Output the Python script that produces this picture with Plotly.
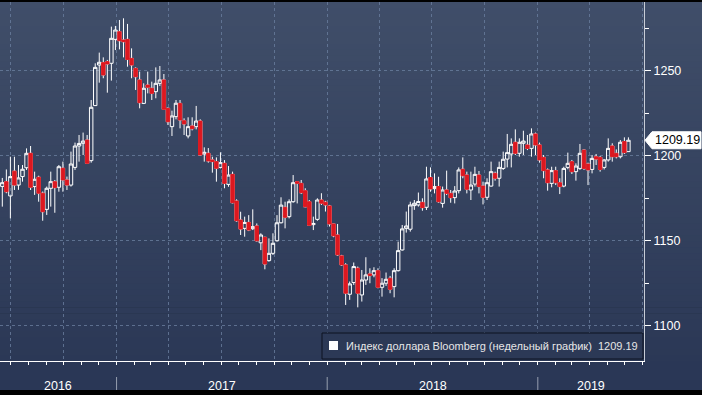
import pandas as pd
import plotly.graph_objects as go

# ---- data (weekly OHLC, Bloomberg Dollar Index) ----
week_start = "2016-06-17"
n_weeks = 156
opens = [1182.0, 1184.8, 1176.4, 1191.0, 1182.8, 1187.8, 1193.0, 1201.5, 1181.9, 1187.4,
         1178.0, 1168.5, 1180.9, 1184.8, 1181.5, 1192.7, 1185.8, 1182.8, 1193.2, 1205.8,
         1207.4, 1209.3, 1197.2, 1229.6, 1253.5, 1254.9, 1255.5, 1254.5, 1268.6, 1273.1,
         1268.2, 1268.6, 1257.4, 1251.5, 1244.7, 1230.9, 1241.7, 1239.8, 1237.8, 1242.7,
         1244.7, 1228.0, 1217.2, 1223.1, 1230.9, 1220.7, 1211.7, 1217.6, 1217.2, 1220.5,
         1201.1, 1201.5, 1197.6, 1196.6, 1193.2, 1195.6, 1183.2, 1189.1, 1173.4, 1162.2,
         1157.3, 1160.8, 1157.1, 1158.7, 1148.8, 1152.0, 1138.3, 1142.6, 1150.0, 1160.6,
         1169.7, 1164.2, 1173.0, 1184.8, 1183.8, 1179.5, 1173.0, 1159.5, 1162.6, 1174.0,
         1172.7, 1170.5, 1159.9, 1153.4, 1141.1, 1135.8, 1118.5, 1125.4, 1133.8, 1118.1,
         1126.9, 1130.5, 1129.9, 1132.4, 1122.6, 1125.0, 1127.9, 1123.0, 1132.4, 1144.6,
         1157.3, 1156.8, 1170.7, 1171.1, 1172.6, 1169.7, 1187.2, 1180.7, 1181.9, 1172.0,
         1179.9, 1177.9, 1175.4, 1179.5, 1192.1, 1188.7, 1179.9, 1183.4, 1188.7, 1182.2,
         1175.6, 1182.2, 1189.7, 1186.8, 1192.6, 1198.1, 1201.1, 1208.0, 1201.5, 1207.4,
         1206.4, 1204.4, 1212.9, 1206.4, 1199.1, 1191.7, 1183.8, 1191.3, 1184.2, 1182.2,
         1193.2, 1196.6, 1190.7, 1192.6, 1203.4, 1195.2, 1192.0, 1199.5, 1199.1, 1193.2,
         1197.6, 1205.8, 1201.5, 1199.5, 1208.4, 1202.5]
highs = [1187.0, 1192.0, 1199.5, 1199.5, 1194.6, 1194.6, 1204.4, 1205.8, 1190.7, 1188.3,
         1179.0, 1181.9, 1190.7, 1185.8, 1194.6, 1196.6, 1187.8, 1202.5, 1207.8, 1212.3,
         1213.7, 1212.3, 1232.9, 1254.5, 1260.8, 1258.0, 1256.5, 1276.1, 1276.5, 1280.0,
         1281.0, 1277.7, 1263.3, 1252.1, 1249.6, 1242.7, 1249.6, 1243.7, 1252.1, 1252.9,
         1248.2, 1228.6, 1226.6, 1232.9, 1232.9, 1222.1, 1222.7, 1222.7, 1229.4, 1221.5,
         1205.0, 1204.6, 1199.5, 1199.1, 1202.1, 1197.5, 1194.0, 1190.7, 1174.4, 1167.1,
         1164.2, 1165.1, 1168.5, 1160.2, 1154.4, 1152.4, 1151.4, 1154.4, 1165.1, 1175.6,
         1173.0, 1174.4, 1188.7, 1185.2, 1185.8, 1180.9, 1174.0, 1164.2, 1175.0, 1178.0,
         1173.5, 1171.1, 1160.0, 1159.9, 1141.7, 1136.8, 1126.0, 1137.2, 1134.8, 1132.8,
         1140.3, 1133.8, 1134.4, 1133.8, 1128.0, 1131.3, 1129.3, 1133.8, 1149.5, 1159.3,
         1167.2, 1173.0, 1174.0, 1178.4, 1175.0, 1193.6, 1193.2, 1189.7, 1187.7, 1181.9,
         1191.3, 1179.9, 1182.2, 1193.2, 1199.1, 1190.7, 1190.7, 1193.6, 1191.1, 1184.8,
         1186.8, 1196.6, 1190.7, 1196.6, 1202.5, 1212.9, 1210.3, 1215.6, 1210.3, 1214.8,
         1212.3, 1216.2, 1213.7, 1207.8, 1200.5, 1192.6, 1193.6, 1193.6, 1186.8, 1193.6,
         1201.9, 1197.6, 1195.6, 1207.0, 1203.8, 1196.0, 1200.5, 1201.1, 1199.9, 1198.0,
         1210.3, 1207.4, 1203.8, 1209.3, 1210.9, 1210.9]
lows = [1170.1, 1178.0, 1163.2, 1179.9, 1180.0, 1184.8, 1191.7, 1179.9, 1177.0, 1173.0,
        1161.8, 1165.2, 1170.1, 1166.5, 1178.9, 1178.9, 1179.9, 1181.9, 1191.7, 1196.6,
        1200.5, 1195.2, 1196.0, 1229.4, 1243.1, 1245.7, 1237.2, 1244.3, 1262.3, 1262.7,
        1258.0, 1252.5, 1245.7, 1238.8, 1228.0, 1230.5, 1236.8, 1232.9, 1233.9, 1241.1,
        1227.0, 1218.2, 1211.7, 1221.5, 1216.2, 1212.3, 1210.3, 1215.0, 1215.6, 1200.1,
        1196.6, 1196.0, 1190.1, 1184.8, 1192.6, 1180.9, 1181.8, 1172.0, 1161.2, 1153.4,
        1152.4, 1155.7, 1156.3, 1149.5, 1144.5, 1133.2, 1137.7, 1141.6, 1149.5, 1160.2,
        1157.3, 1163.2, 1172.4, 1172.0, 1177.5, 1169.7, 1158.7, 1156.3, 1161.8, 1171.1,
        1167.2, 1158.4, 1152.1, 1141.1, 1135.2, 1112.2, 1115.2, 1124.0, 1110.8, 1114.2,
        1124.0, 1125.0, 1128.5, 1122.0, 1117.1, 1123.4, 1119.1, 1116.7, 1131.9, 1144.2,
        1154.8, 1155.4, 1168.2, 1170.1, 1167.7, 1168.1, 1178.9, 1177.9, 1172.4, 1169.5,
        1176.9, 1172.4, 1172.0, 1177.9, 1186.8, 1177.9, 1174.0, 1181.9, 1177.9, 1171.4,
        1174.0, 1181.9, 1185.4, 1181.9, 1191.7, 1193.2, 1193.2, 1200.5, 1199.5, 1200.5,
        1203.4, 1199.5, 1200.5, 1196.0, 1186.8, 1179.5, 1181.5, 1182.8, 1177.5, 1181.5,
        1192.1, 1189.3, 1185.4, 1191.7, 1191.7, 1182.8, 1189.7, 1194.6, 1190.7, 1192.0,
        1196.6, 1196.6, 1198.5, 1198.5, 1201.1, 1202.5]
closes = [1184.2, 1178.9, 1187.8, 1182.8, 1187.0, 1192.1, 1201.5, 1181.5, 1186.2, 1178.0,
          1167.1, 1180.9, 1184.8, 1181.3, 1193.6, 1185.8, 1182.8, 1195.2, 1205.8, 1207.3,
          1208.7, 1195.6, 1228.6, 1252.1, 1255.1, 1247.6, 1254.1, 1269.2, 1274.1, 1267.8,
          1267.2, 1256.8, 1253.5, 1246.6, 1231.3, 1239.8, 1240.4, 1236.8, 1242.7, 1244.7,
          1227.4, 1220.1, 1223.5, 1231.0, 1221.1, 1218.8, 1217.2, 1216.0, 1220.5, 1200.5,
          1202.1, 1197.0, 1196.6, 1192.7, 1196.0, 1183.8, 1188.7, 1172.4, 1161.8, 1156.9,
          1160.8, 1156.3, 1158.3, 1150.0, 1153.4, 1136.3, 1142.6, 1148.5, 1160.6, 1171.0,
          1163.8, 1173.0, 1184.2, 1183.8, 1178.3, 1170.0, 1159.1, 1160.2, 1174.0, 1172.1,
          1171.1, 1159.9, 1152.9, 1141.7, 1135.8, 1119.1, 1124.6, 1134.8, 1119.1, 1126.9,
          1129.9, 1129.5, 1132.4, 1122.6, 1125.0, 1127.3, 1121.4, 1132.4, 1144.2, 1157.0,
          1158.7, 1171.1, 1172.1, 1173.1, 1169.5, 1186.4, 1180.5, 1181.9, 1173.0, 1179.9,
          1177.9, 1175.4, 1179.3, 1191.7, 1188.3, 1180.3, 1182.8, 1189.1, 1181.9, 1175.6,
          1184.2, 1190.7, 1186.8, 1193.2, 1198.0, 1201.9, 1206.8, 1201.5, 1208.0, 1208.7,
          1204.4, 1212.9, 1206.4, 1197.6, 1191.3, 1184.2, 1191.3, 1184.2, 1181.9, 1192.6,
          1195.6, 1190.7, 1194.0, 1201.5, 1192.6, 1191.7, 1198.5, 1198.1, 1192.0, 1197.6,
          1204.4, 1199.5, 1199.5, 1208.0, 1201.9, 1209.19]
y_ticks = [1100, 1150, 1200, 1250]
y_minor = [1125, 1175, 1225, 1275]
year_labels = ["2016", "2017", "2018", "2019"]
series_name = "Индекс доллара Bloomberg (недельный график)"
last_value = closes[-1]

dates = pd.date_range(week_start, periods=n_weeks, freq="W-FRI")
x_start, x_end = pd.Timestamp("2016-06-13"), pd.Timestamp("2019-07-04")
y_lo, y_hi = 1079.2, 1290.6

RED = "#dc1820"
WHITE = "#ffffff"
GRID = "rgba(105,125,158,0.8)"
FONT = "Liberation Sans"

fig = go.Figure()
# all candles: white wicks / outlines
fig.add_trace(go.Candlestick(
    x=dates, open=opens, high=highs, low=lows, close=closes,
    increasing=dict(line=dict(color=WHITE, width=1), fillcolor="rgba(0,0,0,0)"),
    decreasing=dict(line=dict(color=WHITE, width=1), fillcolor=RED),
    whiskerwidth=0, showlegend=False, hoverinfo="skip"))
# red bodies on top of the down candles (so only the wick stays white)
dn = [i for i in range(n_weeks) if closes[i] < opens[i]]
fig.add_trace(go.Candlestick(
    x=[dates[i] for i in dn], open=[opens[i] for i in dn], high=[opens[i] for i in dn],
    low=[closes[i] for i in dn], close=[closes[i] for i in dn],
    increasing=dict(line=dict(color=RED, width=1), fillcolor=RED),
    decreasing=dict(line=dict(color=RED, width=1), fillcolor=RED),
    whiskerwidth=0, showlegend=False, hoverinfo="skip"))

W, H = 702, 395
ml, mr, mt, mb = 0, 58, 2, 34
pw, ph = W - ml - mr, H - mt - mb
xr = (W - ml) / pw  # paper x at right edge of figure

shapes = []
# vertical gradient background
top_c, bot_c = (64, 78, 105), (43, 56, 86)
N = 60
for k in range(N):
    t = (k + 0.5) / N
    c = tuple(round(top_c[j] + (bot_c[j] - top_c[j]) * t) for j in range(3))
    shapes.append(dict(type="rect", xref="paper", yref="paper", x0=0, x1=xr,
                       y0=1 - (k + 1) / N - 0.002, y1=1 - k / N,
                       fillcolor="rgb(%d,%d,%d)" % c, line_width=0, layer="below"))
# date band
band_bottom = -(390 - 361) / ph
shapes.append(dict(type="rect", xref="paper", yref="paper", x0=0, x1=xr, y0=band_bottom, y1=0,
                   fillcolor="rgb(42,55,86)", line_width=0, layer="below"))
# year separators
for yr in ["2017-01-01", "2018-01-01", "2019-01-01"]:
    shapes.append(dict(type="line", xref="x", yref="paper", x0=yr, x1=yr,
                       y0=-(377 - 361) / ph, y1=band_bottom,
                       line=dict(color="rgb(150,158,175)", width=1)))
# legend box
lx0, lx1, ly0, ly1 = 322 / pw, 643 / pw, (361 - 359) / ph, (361 - 333) / ph
shapes.append(dict(type="rect", xref="paper", yref="paper", x0=lx0, x1=lx1, y0=ly0, y1=ly1,
                   fillcolor="rgb(44,57,86)", line=dict(color="#0d1220", width=1), layer="above"))
shapes.append(dict(type="rect", xref="paper", yref="paper", x0=329 / pw, x1=338 / pw,
                   y0=(361 - 350) / ph, y1=(361 - 341) / ph,
                   fillcolor=WHITE, line_width=0, layer="above"))
# last-value tag (arrow box)
upu = (y_hi - y_lo) / ph  # value units per pixel
hb = 8.5 * upu
px = lambda p: p / pw
path = "M %f,%f L %f,%f L %f,%f L %f,%f L %f,%f Z" % (
    px(645), last_value, px(652), last_value + hb, px(701), last_value + hb,
    px(701), last_value - hb, px(652), last_value - hb)
shapes.append(dict(type="path", xref="paper", yref="y", path=path,
                   fillcolor=WHITE, line=dict(color=WHITE, width=1), layer="above"))

annotations = []
# year labels centred in their visible part
bounds = [x_start, pd.Timestamp("2017-01-01"), pd.Timestamp("2018-01-01"),
          pd.Timestamp("2019-01-01"), x_end]
for i, lab in enumerate(year_labels):
    mid = bounds[i] + (bounds[i + 1] - bounds[i]) / 2
    annotations.append(dict(x=mid, y=-(385.5 - 361) / ph, xref="x", yref="paper", text=lab,
                            showarrow=False, font=dict(family=FONT, size=12.5, color=WHITE),
                            xanchor="center", yanchor="middle"))
annotations.append(dict(x=344 / pw, y=(361 - 346) / ph, xref="paper", yref="paper",
                        text=series_name + "\u00a0\u00a0" + f"{last_value:.2f}",
                        showarrow=False, xanchor="left", yanchor="middle",
                        font=dict(family=FONT, size=11, color="#e6e6e6")))
annotations.append(dict(x=px(677), y=last_value, xref="paper", yref="y",
                        text=f"{last_value:.2f}", showarrow=False,
                        xanchor="center", yanchor="middle",
                        font=dict(family=FONT, size=12.5, color="#000000")))

fig.update_layout(
    width=W, height=H, margin=dict(l=ml, r=mr, t=mt, b=mb, pad=0),
    paper_bgcolor="#000000", plot_bgcolor="rgba(0,0,0,0)",
    showlegend=False, shapes=shapes, annotations=annotations,
    boxmode="overlay", boxgap=0.15, boxgroupgap=0,
    xaxis=dict(type="date", range=[x_start, x_end], rangeslider=dict(visible=False),
               tickmode="linear", tick0="2016-01-01", dtick="M3",
               ticks="outside", ticklen=3, tickcolor=WHITE, showticklabels=False,
               showgrid=True, gridcolor=GRID, griddash="3px,3px", gridwidth=1,
               showline=True, linecolor=WHITE, linewidth=1, zeroline=False,
               minor=dict(tick0="2016-01-01", dtick="M1", ticks="outside", ticklen=3,
                          tickcolor=WHITE, showgrid=False)),
    yaxis=dict(side="right", range=[y_lo, y_hi], tickmode="array", tickvals=y_ticks,
               ticktext=[str(v) for v in y_ticks],
               ticks="outside", ticklen=6, tickwidth=1, tickcolor=WHITE,
               tickfont=dict(family=FONT, size=12.5, color=WHITE),
               showgrid=True, gridcolor=GRID, griddash="3px,3px", gridwidth=1,
               showline=True, linecolor="rgb(200,205,215)", linewidth=1, zeroline=False,
               minor=dict(tickmode="array", tickvals=y_minor, ticks="outside", ticklen=4,
                          tickcolor=WHITE, showgrid=False)),
)

fig.write_html("out.html", config={"displayModeBar": False},
               post_script="document.body.style.margin='0';document.body.style.background='#000';")
